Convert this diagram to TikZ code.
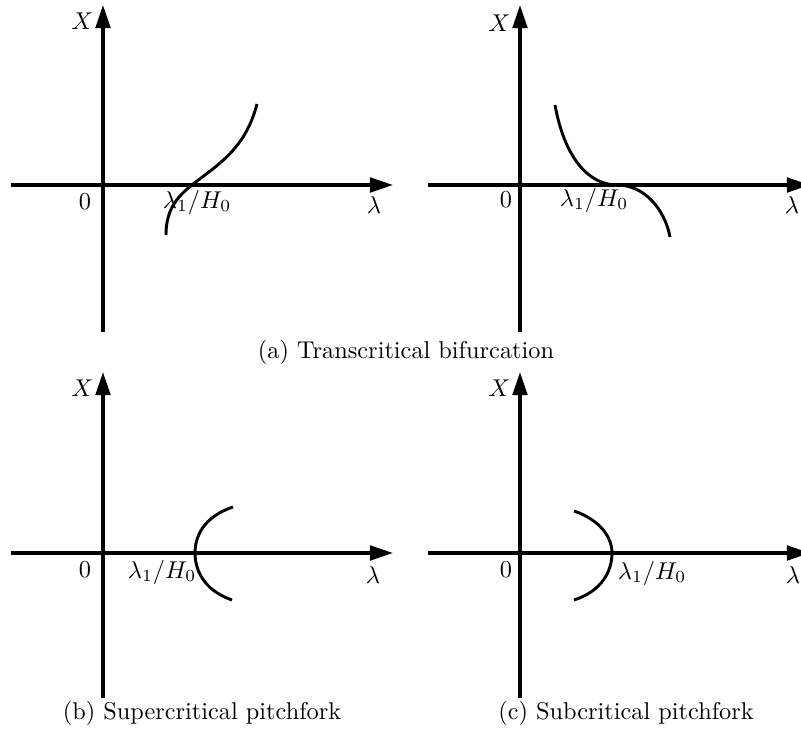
\documentclass[tikz,border=0pt]{standalone}
\usepackage{amsmath,amssymb}
\usetikzlibrary{arrows.meta}
\tikzset{axis/.style={line width=1.4pt,-{Triangle[length=9.5pt,width=6pt]}},
  branch/.style={line width=1.2pt}}
\begin{document}
\begin{tikzpicture}[x=.4115pt,y=-.4115pt]
\useasboundingbox(0,0)rectangle(801,740);
% (a) transcritical, left
\begin{scope}[shift={(103,185)}]
\draw[axis](0,147)--(0,-180);\draw[axis](-92,0)--(290,0);
\node[left](Xa)at(-1,-164){$X$};\node(zeroa)at(-18,17){$0$};\node(lama)at(271,20){$\lambda$};
\node(crita)at(94,17){$\lambda_1/H_0$};
\draw[branch](63,50)..controls(63,28)and(71,14)..(89,0)..controls(114,-20)and(142,-35)..(154,-81);
\end{scope}
% (a) transcritical, right
\begin{scope}[shift={(520,185)}]
\draw[axis](0,147)--(0,-180);\draw[axis](-92,0)--(290,0);
\node[left](Xb)at(-1,-162){$X$};\node(zerob)at(-14,15){$0$};\node(lamb)at(272,20){$\lambda$};
\node(critb)at(74,15){$\lambda_1/H_0$};
\draw[branch](35,-80)..controls(45,-25)and(70,0)..(97,0)..controls(125,0)and(145,25)..(150,52);
\end{scope}
% (b) supercritical
\begin{scope}[shift={(103,553)}]
\draw[axis](0,145)--(0,-181);\draw[axis](-92,0)--(290,0);
\node[left](Xc)at(-1,-165){$X$};\node(zeroc)at(-18,17){$0$};\node(lamc)at(270,22){$\lambda$};
\node(critc)at(59,19){$\lambda_1/H_0$};
\draw[branch](130,-46)..controls(100,-36)and(92,-16)..(92,0)..controls(92,16)and(100,37)..(129,47);
\end{scope}
% (c) subcritical
\begin{scope}[shift={(520,553)}]
\draw[axis](0,145)--(0,-181);\draw[axis](-92,0)--(290,0);
\node[left](Xd)at(-1,-165){$X$};\node(zerod)at(-14,17){$0$};\node(lamd)at(273,22){$\lambda$};
\node(critd)at(132,20){$\lambda_1/H_0$};
\draw[branch](54,-42)..controls(80,-33)and(92,-16)..(92,0)..controls(92,18)and(82,38)..(54,47);
\end{scope}
\node(capa)at(406,352){(a) Transcritical bifurcation};
\node(capb)at(202,713){(b) Supercritical pitchfork};
\node(capc)at(626,713){(c) Subcritical pitchfork};
\end{tikzpicture}
\end{document}
